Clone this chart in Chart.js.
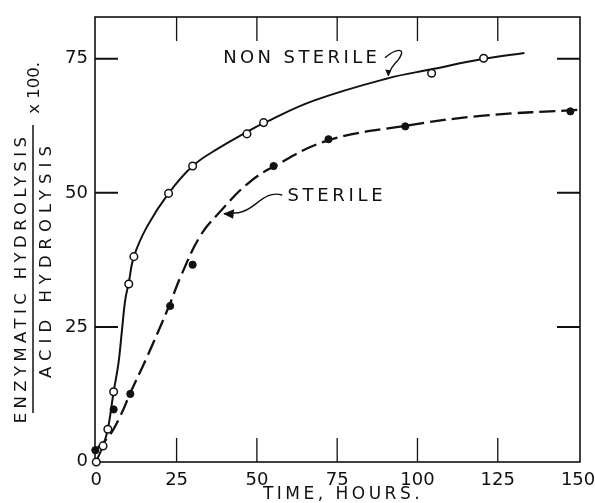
<!DOCTYPE html>
<html>
<head>
<meta charset="utf-8">
<script src="https://cdn.jsdelivr.net/npm/chart.js@4/dist/chart.umd.min.js"></script>
<style>
  html, body { margin: 0; padding: 0; background: #fff; }
  #wrap { width: 595px; height: 503px; position: relative; }
</style>
</head>
<body>
<div id="wrap"><canvas id="chart"></canvas></div>
<script>
// axis ticks
const xTicks = [0, 25, 50, 75, 100, 125, 150];
const yTicks = [0, 25, 50, 75];

// measured points, open circles (non sterile)
const nonSterileT = [0, 2.1, 3.6, 5.4, 10.1, 11.7, 22.5, 30, 46.9, 52.1, 104.4, 120.6];
const nonSterileV = [-0.2, 2.8, 5.9, 12.9, 33, 38.1, 49.9, 55.0, 61.0, 63.1, 72.3, 75.1];

// measured points, filled circles (sterile)
const sterileT = [-0.3, 5.4, 10.6, 23, 30, 55.2, 72.3, 96.2, 147.6];
const sterileV = [2.0, 9.6, 12.5, 28.9, 36.6, 55.0, 60.0, 62.4, 65.2];

// hand drawn curves
const nonSterileCurveT = [0, 2.1, 3.6, 5.4, 6.9, 8.0, 9.0, 10.1, 11.7, 15.8, 22.5, 30, 38, 47, 52.1, 67.7, 91, 104, 120.6, 133.3];
const nonSterileCurveV = [0, 2.8, 5.9, 12.9, 18.2, 24.4, 30, 33.2, 38.1, 43.7, 49.9, 55.0, 58.3, 61.4, 63.0, 67.2, 71.4, 73.0, 75.0, 76.1];
const sterileCurveT = [-0.3, 3.8, 7.5, 10.4, 15.8, 22.8, 26.2, 32.4, 38.1, 46.9, 55.5, 72.3, 96.2, 120.5, 150.6];
const sterileCurveV = [2.0, 4.5, 8.4, 12.4, 19.4, 29.1, 34.3, 42.0, 46.2, 51.6, 55.0, 59.8, 62.5, 64.4, 65.5];

// text
const xTitle = "TIME, HOURS.";
const yTitleTop = "ENZYMATIC HYDROLYSIS";
const yTitleBottom = "ACID HYDROLYSIS";
const yTitleFactor = "x 100.";
const labelNonSterile = "NON STERILE";
const labelSterile = "STERILE";

const FONT = "'DejaVu Sans', 'Liberation Sans', sans-serif";

function pts(xs, ys) {
  return xs.map((x, i) => ({ x: x, y: ys[i] }));
}

const decor = {
  id: "decor",
  beforeDatasetsDraw(chart) {
    const { ctx, chartArea: a, scales: { x, y } } = chart;
    ctx.save();
    ctx.strokeStyle = "#111";
    ctx.lineWidth = 1.6;
    ctx.strokeRect(a.left, a.top, a.right - a.left, a.bottom - a.top);

    // inner tick marks on all four sides
    ctx.lineWidth = 1.3;
    xTicks.forEach(v => {
      if (v <= x.min + 1 || v >= x.max - 1) return;
      const px = x.getPixelForValue(v);
      ctx.beginPath();
      ctx.moveTo(px, a.bottom); ctx.lineTo(px, a.bottom - 24);
      ctx.moveTo(px, a.top); ctx.lineTo(px, a.top + 24);
      ctx.stroke();
    });
    ctx.lineWidth = 2;
    yTicks.forEach(v => {
      if (v <= y.min + 1 || v >= y.max - 1) return;
      const py = y.getPixelForValue(v);
      ctx.beginPath();
      ctx.moveTo(a.left, py); ctx.lineTo(a.left + 23, py);
      ctx.moveTo(a.right, py); ctx.lineTo(a.right - 23, py);
      ctx.stroke();
    });
    ctx.restore();
  },
  afterDraw(chart) {
    const { ctx, scales: { x, y } } = chart;
    const P = (t, v) => [x.getPixelForValue(t), y.getPixelForValue(v)];
    ctx.save();
    ctx.fillStyle = "#111";
    ctx.strokeStyle = "#111";

    // x title
    ctx.font = "17px " + FONT;
    ctx.letterSpacing = "3.5px";
    ctx.textAlign = "center";
    ctx.textBaseline = "middle";
    ctx.fillText(xTitle, 343, 494.5);

    // y title as a fraction, rotated
    ctx.save();
    ctx.rotate(-Math.PI / 2);
    ctx.font = "16.5px " + FONT;
    ctx.letterSpacing = "4.4px";
    ctx.fillText(yTitleTop, -278, 21.5);
    ctx.letterSpacing = "6px";
    ctx.fillText(yTitleBottom, -259, 46.5);
    ctx.letterSpacing = "0px";
    ctx.fillText(yTitleFactor, -88, 35);
    ctx.restore();
    ctx.lineWidth = 1.5;
    ctx.beginPath();
    ctx.moveTo(33, 125); ctx.lineTo(33, 413);
    ctx.stroke();

    // curve labels
    ctx.font = "18px " + FONT;
    ctx.letterSpacing = "3.4px";
    ctx.textAlign = "left";
    let p = P(39.5, 75.1);
    ctx.fillText(labelNonSterile, p[0], p[1]);
    p = P(59.5, 49.3);
    ctx.letterSpacing = "3.7px";
    ctx.fillText(labelSterile, p[0], p[1]);

    // arrow to the non sterile curve
    ctx.lineWidth = 1.4;
    ctx.beginPath();
    p = P(89.9, 75.2); ctx.moveTo(p[0], p[1]);
    const c1 = P(93.1, 76.9), c2 = P(97.0, 77.3), e1 = P(94.0, 74.8);
    ctx.bezierCurveTo(c1[0], c1[1], c2[0], c2[1], e1[0], e1[1]);
    const c3 = P(91.6, 73.4), tip1 = P(90.9, 71.9);
    ctx.quadraticCurveTo(c3[0], c3[1], tip1[0], tip1[1]);
    ctx.stroke();
    ctx.beginPath();
    ctx.moveTo(tip1[0], tip1[1] + 1);
    ctx.lineTo(tip1[0] - 3, tip1[1] - 6);
    ctx.lineTo(tip1[0] + 3, tip1[1] - 5);
    ctx.closePath();
    ctx.fill();

    // arrow to the sterile curve
    ctx.beginPath();
    p = P(57.9, 49.6); ctx.moveTo(p[0], p[1]);
    const d1 = P(51.7, 50.6), d2 = P(49.5, 46.6), e2 = P(44.2, 46.3);
    ctx.bezierCurveTo(d1[0], d1[1], d2[0], d2[1], e2[0], e2[1]);
    const tip2 = P(39.8, 46.1);
    ctx.lineTo(tip2[0], tip2[1]);
    ctx.stroke();
    ctx.beginPath();
    ctx.moveTo(tip2[0] - 1, tip2[1]);
    ctx.lineTo(tip2[0] + 10, tip2[1] - 4.5);
    ctx.lineTo(tip2[0] + 9, tip2[1] + 5);
    ctx.closePath();
    ctx.fill();
    ctx.restore();
  }
};

const chart = new Chart(document.getElementById("chart"), {
  type: "line",
  data: {
    datasets: [
      {
        label: "Non sterile points",
        data: pts(nonSterileT, nonSterileV),
        showLine: false,
        pointStyle: "circle",
        pointRadius: 3.8,
        pointBorderWidth: 1.5,
        pointBorderColor: "#111",
        pointBackgroundColor: "#fff",
        clip: false,
        order: 0
      },
      {
        label: "Sterile points",
        data: pts(sterileT, sterileV),
        showLine: false,
        pointStyle: "circle",
        pointRadius: 3.6,
        pointBorderWidth: 1,
        pointBorderColor: "#111",
        pointBackgroundColor: "#111",
        clip: false,
        order: 0
      },
      {
        label: "Non sterile",
        data: pts(nonSterileCurveT, nonSterileCurveV),
        borderColor: "#111",
        borderWidth: 2,
        pointRadius: 0,
        tension: 0.4,
        order: 1
      },
      {
        label: "Sterile",
        data: pts(sterileCurveT, sterileCurveV),
        borderColor: "#111",
        borderWidth: 2.3,
        borderDash: [16, 6],
        pointRadius: 0,
        tension: 0.4,
        clip: false,
        order: 1
      }
    ]
  },
  options: {
    responsive: true,
    maintainAspectRatio: false,
    animation: false,
    layout: { padding: { top: 17, right: 15, left: 0, bottom: 0 } },
    plugins: {
      legend: { display: false },
      tooltip: { enabled: false }
    },
    scales: {
      x: {
        type: "linear",
        min: -0.4,
        max: 150.6,
        afterBuildTicks: s => { s.ticks = xTicks.map(v => ({ value: v })); },
        afterFit: s => { s.height = 41; s.paddingLeft = 0; s.paddingRight = 0; },
        grid: { display: false, drawTicks: false },
        border: { display: false },
        ticks: {
          color: "#111",
          padding: 8,
          maxRotation: 0,
          font: { family: FONT, size: 18 }
        }
      },
      y: {
        type: "linear",
        min: -0.2,
        max: 82.8,
        afterBuildTicks: s => { s.ticks = yTicks.map(v => ({ value: v })); },
        afterFit: s => { s.width = 95; s.paddingTop = 0; s.paddingBottom = 0; },
        grid: { display: false, drawTicks: false },
        border: { display: false },
        ticks: {
          color: "#111",
          padding: 7,
          font: { family: FONT, size: 18 }
        }
      }
    }
  },
  plugins: [decor]
});
</script>
</body>
</html>
